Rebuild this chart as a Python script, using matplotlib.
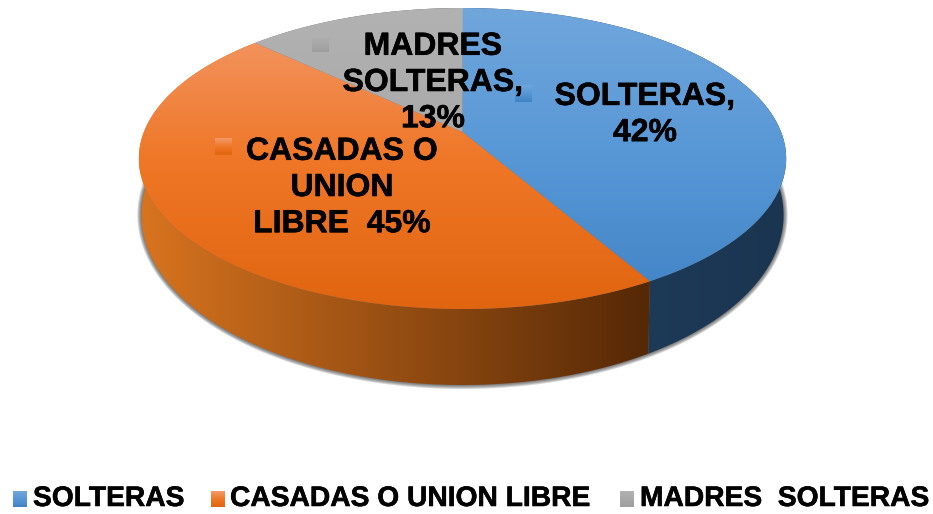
import numpy as np
import matplotlib
matplotlib.use("Agg")
import matplotlib.pyplot as plt
import matplotlib.patheffects as pe
from matplotlib.patches import Polygon

categories = ["SOLTERAS", "CASADAS O UNION LIBRE", "MADRES  SOLTERAS"]
values = [41.7, 45.3, 13.0]
slice_names = ["SOLTERAS,", "CASADAS O\nUNION\nLIBRE ", "MADRES\nSOLTERAS,"]

top_colors = [("#70A6DC", "#5797D6", "#4083C4"), ("#F39A6C", "#EF7727", "#E16510"), ("#B2B2B2", "#A8A8A8", "#9E9E9E")]
side_colors = [("#20405F", "#1A3550"), ("#D8741F", "#552806"), ("#777777", "#555555")]

W, H = 933, 514
plt.rcParams["font.family"] = ["Liberation Sans", "DejaVu Sans"]
plt.rcParams["font.weight"] = "bold"

# pie geometry in pixels: a circle seen in perspective
CX, CY, RY = 462.5, 158.5, 150.5
APEX = 26.5
PERSP = APEX / 150.5
DX = 318.6
BOT_CY, BOT_RY, BOT_SX = 215.0, 170.0, 0.992

heavy = [pe.withStroke(linewidth=0.4, foreground="black")]


def project(theta, r=1.0):
    u = r * np.sin(theta)
    v = r * np.cos(theta)
    d = 1 + PERSP * v
    return CX + DX * u / d, CY - (RY * v + APEX) / d


def lower(x, y, grow=0.0):
    return CX + (x - CX) * (BOT_SX + grow / 320), BOT_CY + (y - CY) / RY * (BOT_RY + grow)


def gradient(ax, poly, colors, horizontal=False, box=None, z=2):
    # gradient image clipped to the polygon
    x0, x1, y0, y1 = box
    stops = np.array([matplotlib.colors.to_rgb(c) for c in colors])
    t = np.linspace(0, 1, 256)
    pos = np.linspace(0, 1, len(colors))
    img = np.column_stack([np.interp(t, pos, stops[:, k]) for k in range(3)])
    img = img[None, :, :] if horizontal else img[:, None, :]
    im = ax.imshow(img, extent=(x0, x1, y1, y0), aspect="auto", zorder=z, interpolation="bilinear")
    patch = Polygon(poly, closed=True, transform=ax.transData, facecolor="none", edgecolor="none")
    ax.add_patch(patch)
    im.set_clip_path(patch)


fig = plt.figure(figsize=(W / 100, H / 100), dpi=100)
ax = fig.add_axes([0, 0, 1, 1])

# soft shadow under the pie
full = np.linspace(0, 2 * np.pi, 400)
tx, ty = project(full)
for g in [4, 3, 2, 1, 0]:
    sx, sy = lower(tx, ty, g)
    ax.fill(sx, sy, color="#303030", alpha=0.2, lw=0, zorder=1)

edges = np.radians(np.concatenate([[0], np.cumsum(values)]) * 360 / sum(values))

# side wall
for i in range(len(values)):
    th = np.linspace(edges[i], edges[i + 1], 200)
    x, y = project(th)
    bx, by = lower(x, y)
    poly = np.column_stack([np.r_[x, bx[::-1]], np.r_[y, by[::-1]]])
    gradient(ax, poly, side_colors[i], True, (poly[:, 0].min(), poly[:, 0].max(), 0, H), 2)

# top face
ax_top = (CY - RY, CY + RY)
for i in range(len(values)):
    th = np.linspace(edges[i], edges[i + 1], 200)
    x, y = project(th)
    poly = np.column_stack([np.r_[CX, x], np.r_[CY - APEX, y]])
    gradient(ax, poly, top_colors[i], False, (0, W, ax_top[0], ax_top[1]), 3)

# data labels with their small keys
label_pos = [(645, 115), (342, 188), (433, 83)]
key_pos = [(515, 85), (215, 138), (312, 35)]
for i in range(len(values)):
    kx, ky = key_pos[i]
    box = [(kx, ky), (kx + 17, ky), (kx + 17, ky + 17), (kx, ky + 17)]
    gradient(ax, box, top_colors[i], False, (kx, kx + 17, ky, ky + 17), 4)
    sep = "\n" if i != 1 else " "
    ax.text(label_pos[i][0], label_pos[i][1], slice_names[i] + sep + f"{round(values[i])}%",
            ha="center", va="center", fontsize=23, color="black", linespacing=1.27, zorder=5,
            path_effects=heavy)

# legend
leg_key = [13, 211, 620]
leg_text = [33, 230, 640]
for i, name in enumerate(categories):
    kx = leg_key[i]
    box = [(kx, 491), (kx + 14, 491), (kx + 14, 507), (kx, 507)]
    gradient(ax, box, top_colors[i], False, (kx, kx + 14, 491, 507), 4)
    ax.text(leg_text[i], 499, name, ha="left", va="center", fontsize=20.3, color="black", zorder=5,
            path_effects=heavy)

ax.set_xlim(0, W)
ax.set_ylim(H, 0)
ax.axis("off")
fig.savefig("out.png", dpi=100, facecolor="white")
